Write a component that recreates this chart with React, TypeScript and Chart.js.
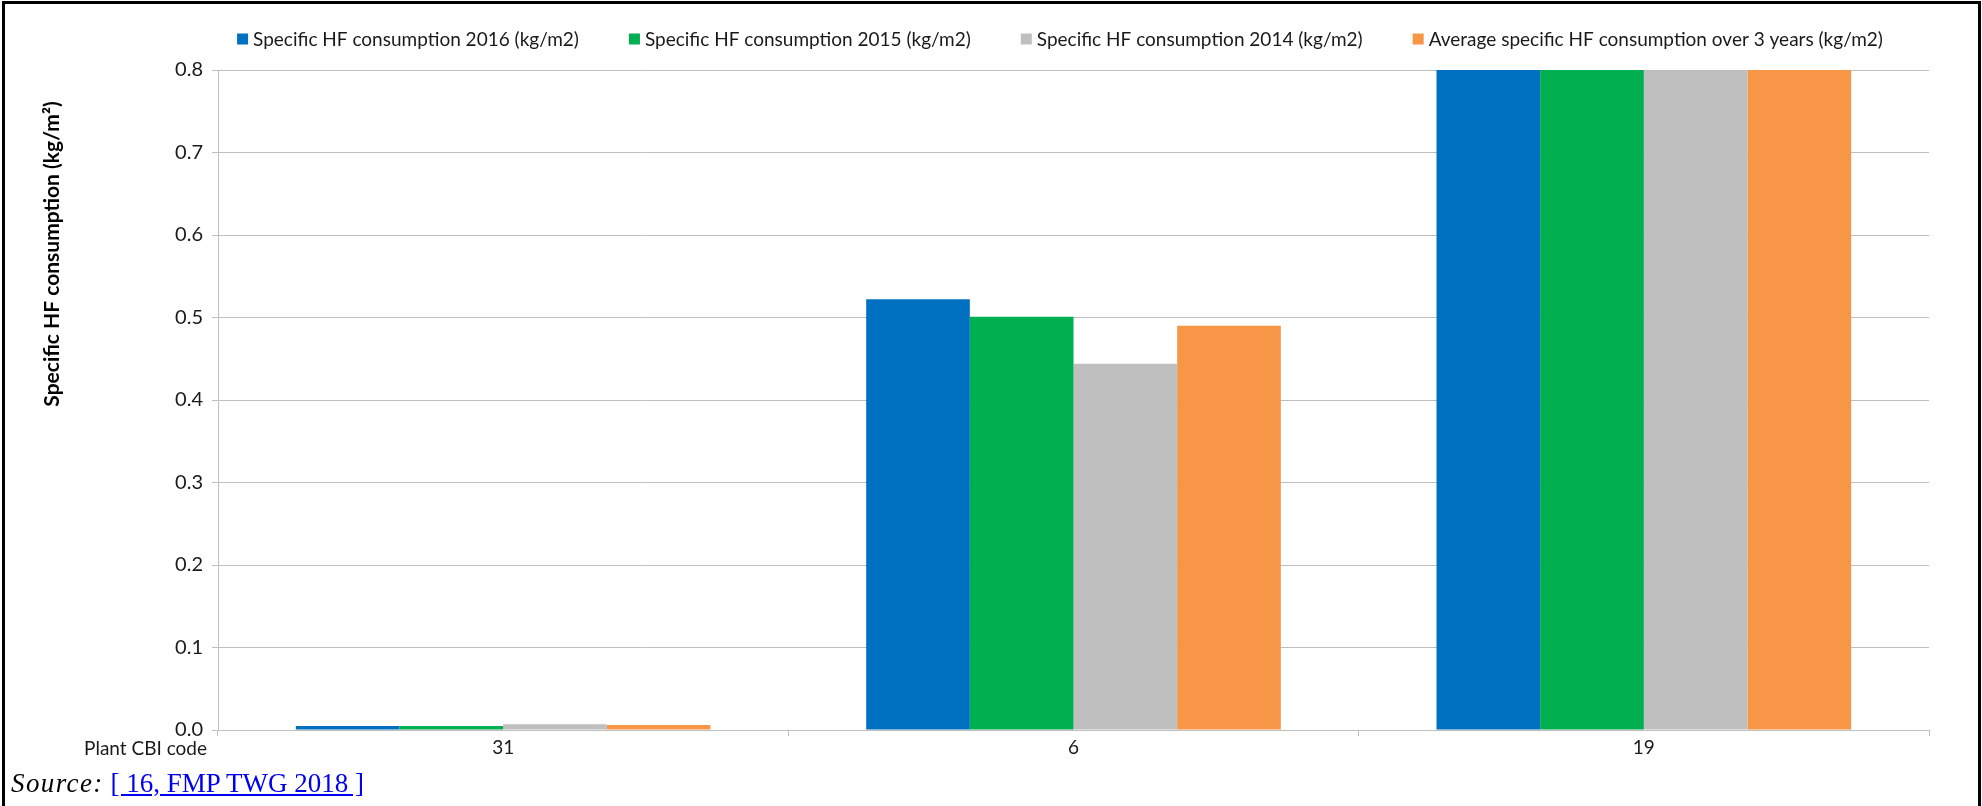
import React, { useEffect, useRef } from "react";
import { Chart, registerables } from "chart.js";

Chart.register(...registerables);

// ---- data ----
const categories = ["31", "6", "19"];
const seriesLabels = [
  "Specific HF consumption 2016 (kg/m2)",
  "Specific HF consumption 2015 (kg/m2)",
  "Specific HF consumption 2014 (kg/m2)",
  "Average specific HF consumption over 3 years (kg/m2)",
];
const hf2016 = [0.005, 0.522, 0.95];
const hf2015 = [0.005, 0.501, 0.95];
const hf2014 = [0.007, 0.444, 0.95];
const hfAvg = [0.006, 0.49, 0.95];
const seriesColors = ["#0070C0", "#00B050", "#BFBFBF", "#F79646"];
const yTitle = "Specific HF consumption (kg/m\u00B2)";
const xCornerLabel = "Plant CBI code";
const yMin = 0;
const yMax = 0.8;
const yStep = 0.1;

const FONT = "Lato, 'Open Sans', sans-serif";

const customText = {
  id: "customText",
  afterDraw(chart: any) {
    const ctx = chart.ctx;
    const area = chart.chartArea;
    ctx.save();
    // legend
    ctx.font = `19px ${FONT}`;
    ctx.textBaseline = "middle";
    ctx.textAlign = "left";
    const box = 11;
    const gapText = 5;
    const gapItem = 50;
    const widths = chart.data.datasets.map((d: any) => ctx.measureText(d.label).width);
    const total =
      widths.reduce((a: number, w: number) => a + box + gapText + w, 0) +
      gapItem * (widths.length - 1);
    let x = 1060 - total / 2;
    const ly = 39;
    chart.data.datasets.forEach((d: any, i: number) => {
      ctx.fillStyle = d.backgroundColor;
      ctx.fillRect(x, ly - box / 2, box, box);
      ctx.fillStyle = "#1a1a1a";
      ctx.fillText(d.label, x + box + gapText, ly + 1);
      x += box + gapText + widths[i] + gapItem;
    });
    // y title
    ctx.translate(52, 254);
    ctx.rotate(-Math.PI / 2);
    ctx.font = `bold 21px ${FONT}`;
    ctx.textAlign = "center";
    ctx.fillStyle = "#000";
    ctx.fillText(yTitle, 0, 0);
    ctx.restore();
    // corner label
    ctx.save();
    ctx.font = `19px ${FONT}`;
    ctx.textAlign = "right";
    ctx.textBaseline = "middle";
    ctx.fillStyle = "#1a1a1a";
    ctx.fillText(xCornerLabel, area.left - 11, area.bottom + 19);
    ctx.restore();
  },
};

export default function App() {
  const ref = useRef<HTMLCanvasElement | null>(null);
  useEffect(() => {
    document.body.style.margin = "0";
    const canvas = ref.current;
    if (!canvas) return;
    const chart = new Chart(canvas, {
      type: "bar",
      data: {
        labels: categories,
        datasets: [hf2016, hf2015, hf2014, hfAvg].map((d, i) => ({
          label: seriesLabels[i],
          data: d,
          backgroundColor: seriesColors[i],
          borderWidth: 0,
          barPercentage: 1,
          categoryPercentage: 0.727,
        })),
      },
      options: {
        responsive: false,
        animation: false,
        devicePixelRatio: 1,
        layout: { padding: { left: 0, right: 53, top: 70, bottom: 0 } },
        plugins: {
          legend: { display: false },
          tooltip: { enabled: false },
          title: { display: false },
        },
        scales: {
          x: {
            grid: {
              display: true,
              drawOnChartArea: false,
              drawTicks: true,
              tickLength: 6,
              color: "#BFBFBF",
              offset: true,
            },
            border: { color: "#BFBFBF", width: 1 },
            ticks: { font: { family: FONT, size: 19 }, color: "#1a1a1a", padding: 0 },
            afterFit: (s: any) => {
              s.height = 76;
            },
          },
          y: {
            min: yMin,
            max: yMax,
            ticks: {
              stepSize: yStep,
              font: { family: FONT, size: 20 },
              color: "#1a1a1a",
              padding: 9,
              callback: (v: any) => Number(v).toFixed(1),
            },
            grid: { color: "#BFBFBF", tickLength: 6, lineWidth: 1 },
            border: { color: "#BFBFBF", width: 1 },
            afterFit: (s: any) => {
              s.width = 218;
            },
          },
        },
      },
      plugins: [customText],
    });
    return () => chart.destroy();
  }, []);

  return (
    <div style={{ position: "relative", width: 1982, height: 806, overflow: "hidden", background: "#fff" }}>
      <canvas ref={ref} width={1982} height={806} style={{ position: "absolute", left: 0, top: 0, width: 1982, height: 806 }} />
      <div
        style={{
          position: "absolute",
          left: 2,
          top: 1,
          width: 1979,
          height: 830,
          boxSizing: "border-box",
          borderLeft: "3px solid #000",
          borderTop: "3px solid #000",
          borderRight: "3px solid #000",
          pointerEvents: "none",
        }}
      />
      <div
        style={{
          position: "absolute",
          left: 11,
          top: 770,
          fontFamily: "'Liberation Serif', 'Times New Roman', serif",
          fontSize: 27,
          lineHeight: "27px",
          whiteSpace: "nowrap",
        }}
      >
        <i style={{ letterSpacing: "1.4px" }}>Source:</i>{" "}
        <a href="#" style={{ color: "#0000EE", textDecoration: "underline" }}>
          [ 16, FMP TWG 2018 ]
        </a>
      </div>
    </div>
  );
}
